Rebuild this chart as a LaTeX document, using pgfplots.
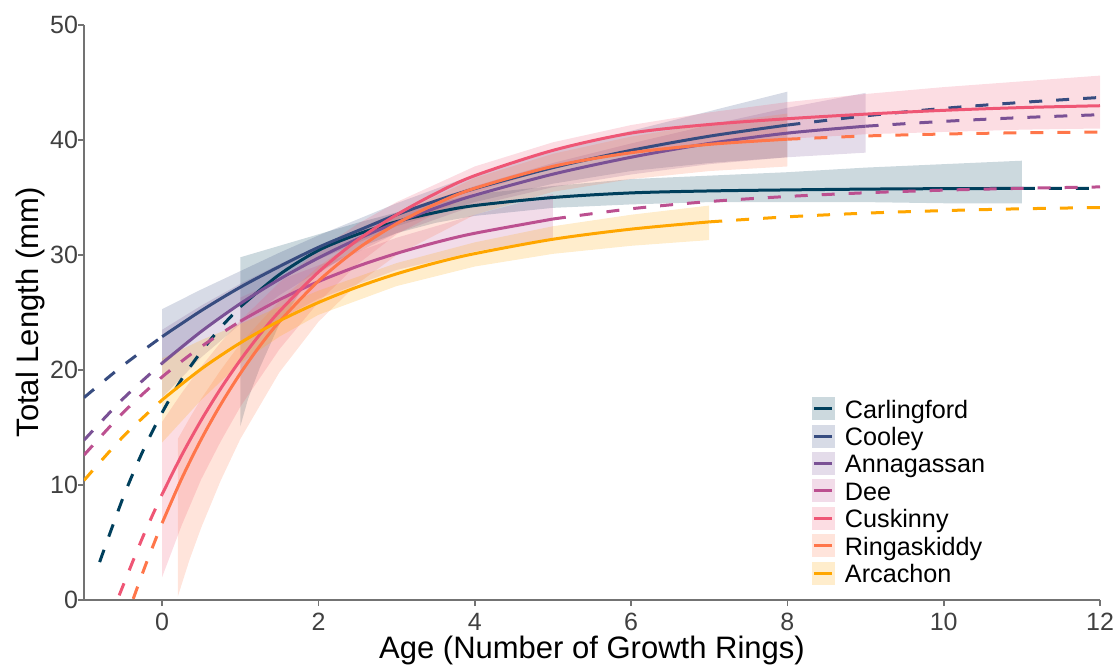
\documentclass[border=0pt]{standalone}
\usepackage{fontspec}
\setmainfont{Liberation Sans}
\usepackage{pgfplots}
\pgfplotsset{compat=1.18}
\definecolor{carl}{HTML}{003F5C}
\definecolor{cool}{HTML}{374C80}
\definecolor{anna}{HTML}{7A5195}
\definecolor{dee}{HTML}{BC5090}
\definecolor{cusk}{HTML}{EF5675}
\definecolor{ring}{HTML}{FF764A}
\definecolor{arca}{HTML}{FFA600}
\pgfplotsset{
  band/.style={draw=none, fill=#1, fill opacity=0.2, forget plot},
  sol/.style={#1, line width=1.5pt, smooth, tension=0.5},
  dsh/.style={#1, line width=1.5pt, smooth, tension=0.5, dash pattern=on 6.5pt off 7pt, forget plot},
  legimg/.style={legend image code/.code={\path[fill=#1!20, draw=none] (0pt,-3.75pt) rectangle (11.5pt,7.75pt);\draw[#1,line width=1.5pt,solid] (1.25pt,2pt) -- (10.25pt,2pt);}},
}
\begin{document}
\begin{tikzpicture}
\begin{axis}[
  width=508pt, height=287.5pt, scale only axis,
  xmin=-1, xmax=12, ymin=0, ymax=50,
  xtick={0,2,...,12}, ytick={0,10,...,50},
  axis lines=left,
  axis line style={-, draw=black!55, line width=0.8pt},
  tick style={draw=black!55, line width=0.8pt},
  tick align=outside, major tick length=3pt,
  /pgf/number format/assume math mode=true,
  ticklabel style={font=\fontsize{12.5}{14}\selectfont, text=black!75},
  yticklabel style={xshift=3.5pt},
  xlabel={Age (Number of Growth Rings)},
  ylabel={Total Length (mm)},
  label style={font=\fontsize{15.5}{18}\selectfont},
  xlabel style={at={(axis description cs:0.5,-0.087)}, anchor=center},
  ylabel style={at={(axis description cs:-0.053,0.5)}, anchor=center},
  legend cell align=left,
  legend style={draw=none, fill=none, at={(0.7165,0.02)}, anchor=south west,
    font=\fontsize{12.6}{14}\selectfont, inner sep=0pt, outer sep=0pt, row sep=0.2pt,
    nodes={inner sep=0pt, text height=8.5pt, text depth=3pt},
    /tikz/every odd column/.append style={column sep=5pt}},
]
% ---------- bands ----------
\addplot[band=carl] coordinates {(1,29.8)(1.1,30.0)(1.25,30.3)(1.5,30.8)(1.75,31.3)(2,31.8)(2.5,32.8)(3,33.7)(3.5,34.5)(4,35.3)(5,36.0)(6,36.6)(7,36.9)(8,37.2)(9,37.6)(10,37.9)(11,38.2)
 (11,34.5)(10,34.5)(9,34.6)(8,34.6)(7,34.6)(6,34.4)(5,34.1)(4,33.4)(3.5,32.8)(3,31.9)(2.5,30.6)(2,28.4)(1.75,26.6)(1.5,24.0)(1.25,20.2)(1.1,17.5)(1,15.1)} -- cycle;
\addplot[band=cool] coordinates {(0,25.3)(0.5,27.0)(1,28.6)(1.5,30.2)(2,31.7)(3,34.5)(4,37.0)(5,39.0)(6,40.8)(7,42.5)(8,44.2)
 (8,38.5)(7,38.0)(6,37.3)(5,36.2)(4,34.6)(3,32.5)(2,29.6)(1.5,27.8)(1,25.8)(0.5,23.2)(0,20.4)} -- cycle;
\addplot[band=anna] coordinates {(0,23.5)(0.5,25.6)(1,27.5)(1.5,29.2)(2,30.8)(3,33.7)(4,36.0)(5,38.0)(6,39.7)(7,41.3)(8,42.8)(9,44.1)
 (9,38.9)(8,38.5)(7,37.9)(6,37.0)(5,35.9)(4,34.3)(3,31.9)(2,28.6)(1.5,26.5)(1,24.0)(0.5,21.1)(0,17.6)} -- cycle;
\addplot[band=dee] coordinates {(1,26.3)(1.5,27.8)(2,29.1)(3,31.5)(4,33.5)(5,35.3)
 (5,31.5)(4,30.3)(3,28.7)(2,26.2)(1.5,24.4)(1,22.2)} -- cycle;
\addplot[band=cusk] coordinates {(0,15.5)(0.25,18.0)(0.5,20.3)(0.75,22.4)(1,24.3)(1.5,27.6)(2,30.4)(2.5,32.7)(3,34.6)(4,37.7)(5,39.8)(6,41.3)(7,42.4)(8,43.3)(9,44.0)(10,44.6)(11,45.1)(12,45.6)
 (12,41.0)(11,40.9)(10,40.7)(9,40.5)(8,40.1)(7,39.7)(6,38.9)(5,37.6)(4,35.4)(3,31.8)(2.5,29.2)(2,25.9)(1.5,21.8)(1,16.8)(0.75,13.8)(0.5,10.5)(0.25,6.5)(0,2.0)} -- cycle;
\addplot[band=ring] coordinates {(0.2,14.0)(0.35,15.8)(0.5,17.5)(0.75,20.0)(1,22.3)(1.5,26.0)(2,29.0)(2.5,31.4)(3,33.5)(4,36.7)(5,38.8)(6,40.3)(7,41.4)(8,42.3)
 (8,37.7)(7,37.3)(6,36.6)(5,35.5)(4,33.5)(3,30.0)(2.5,27.5)(2,24.2)(1.5,19.8)(1,14.0)(0.75,10.4)(0.5,6.3)(0.35,3.5)(0.2,0.3)} -- cycle;
\addplot[band=arca] coordinates {(0,21.0)(0.5,22.6)(1,24.0)(1.5,25.5)(2,26.9)(3,29.3)(4,31.1)(5,32.5)(6,33.5)(7,34.3)
 (7,31.3)(6,30.8)(5,30.1)(4,29.0)(3,27.3)(2,24.8)(1.5,22.9)(1,20.6)(0.5,17.4)(0,13.7)} -- cycle;
% ---------- Carlingford ----------
\addplot[dsh=carl] coordinates {(-0.8,3.3)(-0.5,8.9)(-0.25,12.9)(0,16.3)(0.25,19.2)(0.5,21.6)(0.75,23.7)(1,25.5)};
\addplot[sol=carl, legimg=carl] coordinates {(1,25.5)(1.5,28.3)(2,30.4)(2.5,31.8)(3,32.9)(3.5,33.7)(4,34.3)(5,35.0)(6,35.4)(7,35.57)(8,35.66)(9,35.73)(10,35.77)(11,35.79)};
\addlegendentry{Carlingford}
\addplot[dsh=carl] coordinates {(11,35.79)(12,35.8)};
% ---------- Cooley ----------
\addplot[dsh=cool] coordinates {(-1,17.6)(-0.5,20.4)(0,22.9)};
\addplot[sol=cool, legimg=cool] coordinates {(0,22.9)(0.5,25.16)(1,27.2)(1.5,29.0)(2,30.67)(2.5,32.1)(3,33.5)(3.5,34.7)(4,35.77)(5,37.6)(6,39.1)(7,40.33)(8,41.3)};
\addlegendentry{Cooley}
\addplot[dsh=cool] coordinates {(8,41.3)(9,42.1)(10,42.75)(11,43.27)(12,43.7)};
% ---------- Annagassan ----------
\addplot[dsh=anna] coordinates {(-1,13.9)(-0.5,17.5)(0,20.6)};
\addplot[sol=anna, legimg=anna] coordinates {(0,20.6)(0.5,23.35)(1,25.77)(1.5,27.89)(2,29.75)(2.5,31.39)(3,32.82)(3.5,34.09)(4,35.2)(5,37.03)(6,38.5)(7,39.7)(8,40.6)(9,41.2)};
\addlegendentry{Annagassan}
\addplot[dsh=anna] coordinates {(9,41.2)(10,41.62)(11,41.95)(12,42.2)};
% ---------- Dee ----------
\addplot[dsh=dee] coordinates {(-1,12.6)(-0.5,16.29)(0,19.4)(0.5,22.03)(1,24.24)};
\addplot[sol=dee, legimg=dee] coordinates {(1,24.24)(1.5,26.11)(2,27.69)(2.5,29.02)(3,30.14)(3.5,31.09)(4,31.89)(5,33.13)};
\addlegendentry{Dee}
\addplot[dsh=dee] coordinates {(5,33.13)(6,34.02)(7,34.65)(8,35.09)(9,35.41)(10,35.64)(11,35.8)(12,35.92)};
% ---------- Cuskinny ----------
\addplot[dsh=cusk] coordinates {(-0.55,0.4)(-0.25,5.44)(0,9.2)};
\addplot[sol=cusk, legimg=cusk] coordinates {(0,9.2)(0.25,12.59)(0.5,15.64)(0.75,18.39)(1,20.86)(1.25,23.09)(1.5,25.09)(2,28.52)(2.5,31.3)(3,33.5)(3.5,35.35)(4,36.9)(5,39.1)(6,40.6)(7,41.35)(8,41.85)(9,42.25)(10,42.58)(11,42.82)(12,42.98)};
\addlegendentry{Cuskinny}
% ---------- Ringaskiddy ----------
\addplot[dsh=ring] coordinates {(-0.37,0.1)(-0.2,3.26)(0,6.7)};
\addplot[sol=ring, legimg=ring] coordinates {(0,6.7)(0.25,10.56)(0.5,13.98)(0.75,17.01)(1,19.7)(1.25,22.09)(1.5,24.2)(2,27.74)(2.5,30.53)(3,32.72)(3.5,34.44)(4,35.8)(5,37.71)(6,38.89)(7,39.62)(8,40.07)};
\addlegendentry{Ringaskiddy}
\addplot[dsh=ring] coordinates {(8,40.07)(9,40.35)(10,40.52)(11,40.63)(12,40.69)};
% ---------- Arcachon ----------
\addplot[dsh=arca] coordinates {(-1,10.4)(-0.5,14.2)(0,17.4)};
\addplot[sol=arca, legimg=arca] coordinates {(0,17.4)(0.5,20.09)(1,22.36)(1.5,24.27)(2,25.87)(2.5,27.22)(3,28.36)(3.5,29.32)(4,30.12)(5,31.37)(6,32.25)(7,32.88)};
\addlegendentry{Arcachon}
\addplot[dsh=arca] coordinates {(7,32.88)(8,33.32)(9,33.64)(10,33.86)(11,34.02)(12,34.13)};
\end{axis}
\pgfresetboundingbox
\path (-42pt,-33pt) rectangle (517.5pt,300pt);
\end{tikzpicture}
\end{document}
